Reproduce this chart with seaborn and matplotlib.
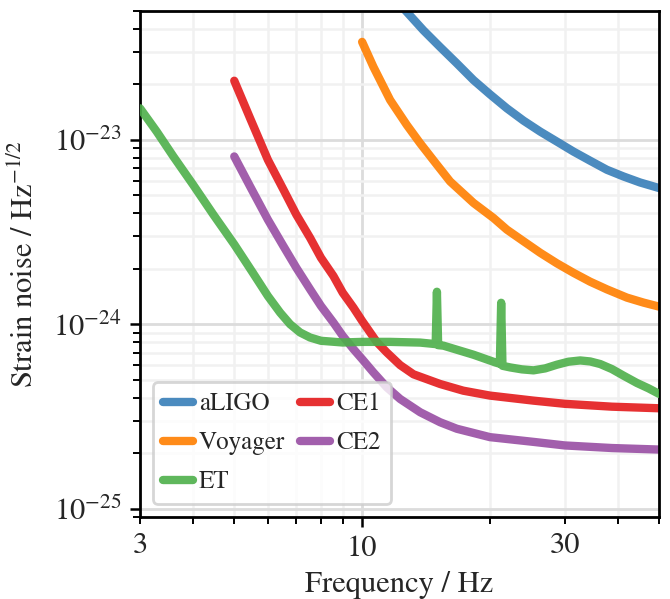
import numpy as np
import pandas as pd
import matplotlib
matplotlib.use("Agg")
import matplotlib.pyplot as plt
import matplotlib.ticker as mticker
import seaborn as sns

# ---- data ----
aligo_f = [12.15, 12.74, 13.94, 15.26, 16.71, 18.29, 20.0, 21.91, 23.98, 26.26, 28.74,
           31.45, 34.44, 37.7, 41.25, 45.15, 50.0]
aligo_s = [5.56e-23, 4.94e-23, 3.93e-23, 3.19e-23, 2.60e-23, 2.11e-23, 1.766e-23, 1.484e-23,
           1.272e-23, 1.109e-23, 9.79e-24, 8.64e-24, 7.70e-24, 6.88e-24, 6.33e-24, 5.87e-24,
           5.48e-24]

voyager_f = [10.0, 10.63, 11.64, 12.74, 13.69, 15.0, 16.11, 18.29, 20.38, 21.91, 23.98,
             26.26, 28.74, 31.45, 34.44, 37.7, 42.02, 45.97, 50.0]
voyager_s = [3.40e-23, 2.49e-23, 1.645e-23, 1.205e-23, 9.60e-24, 7.33e-24, 5.95e-24,
             4.55e-24, 3.77e-24, 3.26e-24, 2.82e-24, 2.44e-24, 2.14e-24, 1.90e-24,
             1.70e-24, 1.546e-24, 1.394e-24, 1.31e-24, 1.246e-24]

et_f = [3.0, 3.284, 3.594, 4.0, 4.465, 5.0, 5.497, 6.0, 6.411, 6.768, 7.145, 7.543, 8.0,
        9.0, 10.0, 11.64, 13.7, 14.9, 15.0, 15.1, 15.54, 18.29, 20.57, 21.1, 21.25, 21.4,
        22.31, 23.77, 25.32, 26.98, 28.74, 30.6, 32.62, 34.44, 36.36, 38.73, 41.25, 44.36,
        47.23, 50.0]
et_s = [1.483e-23, 1.109e-23, 8.13e-24, 5.71e-24, 3.93e-24, 2.71e-24, 1.942e-24, 1.422e-24,
        1.156e-24, 1.0e-24, 9.02e-25, 8.47e-25, 8.13e-25, 7.96e-25, 8.02e-25, 8.02e-25,
        7.95e-25, 7.8e-25, 1.5e-24, 7.7e-25, 7.65e-25, 6.83e-25, 6.21e-25, 6.1e-25,
        1.307e-24, 5.95e-25, 5.83e-25, 5.69e-25, 5.62e-25, 5.76e-25, 6.03e-25, 6.26e-25,
        6.36e-25, 6.28e-25, 6.08e-25, 5.71e-25, 5.26e-25, 4.80e-25, 4.49e-25, 4.19e-25]

ce1_f = [5.0, 5.448, 6.0, 6.528, 7.0, 7.543, 8.0, 8.559, 9.0, 9.54, 10.0, 10.83, 11.43,
         12.29, 13.21, 15.26, 17.3, 20.0, 25.32, 30.0, 38.73, 50.0]
ce1_s = [2.093e-23, 1.310e-23, 7.79e-24, 5.37e-24, 3.93e-24, 2.94e-24, 2.293e-24,
         1.826e-24, 1.483e-24, 1.230e-24, 1.042e-24, 8.0e-25, 7.03e-25, 6.0e-25,
         5.35e-25, 4.74e-25, 4.36e-25, 4.10e-25, 3.85e-25, 3.70e-25, 3.57e-25, 3.50e-25]

ce2_f = [5.0, 5.448, 6.0, 6.528, 7.0, 7.543, 8.0, 8.559, 9.0, 9.54, 10.0, 10.63, 11.43,
         12.29, 13.7, 15.26, 16.71, 20.0, 25.32, 30.0, 38.73, 50.0]
ce2_s = [8.13e-24, 5.59e-24, 3.69e-24, 2.65e-24, 2.024e-24, 1.546e-24, 1.256e-24,
         1.021e-24, 8.65e-25, 7.33e-25, 6.47e-25, 5.48e-25, 4.55e-25, 3.93e-25, 3.33e-25,
         2.94e-25, 2.71e-25, 2.44e-25, 2.30e-25, 2.20e-25, 2.13e-25, 2.09e-25]

names = ["aLIGO", "Voyager", "ET", "CE1", "CE2"]
freqs = [aligo_f, voyager_f, et_f, ce1_f, ce2_f]
strains = [aligo_s, voyager_s, et_s, ce1_s, ce2_s]
colors = ["#377eb8", "#ff7f00", "#4daf4a", "#e41a1c", "#984ea3"]
zorders = [2, 2, 3, 2, 2]

x_ticks = [3, 10, 30]
x_ticklabels = ["3", "10", "30"]

# ---- style ----
sns.set_theme(style="white")
plt.rcParams["font.family"] = ["STIXGeneral", "DejaVu Serif"]
plt.rcParams["mathtext.fontset"] = "stix"
plt.rcParams["axes.unicode_minus"] = True

fig = plt.figure(figsize=(3.35, 2.995), dpi=200)
ax = fig.add_axes([0.209, 0.1369, 0.7746, 0.8447])

for name, f, s, c, z in zip(names, freqs, strains, colors, zorders):
    df = pd.DataFrame({"f": f, "s": s})
    sns.lineplot(data=df, x="f", y="s", ax=ax, color=c, lw=3.0, alpha=0.9,
                 label=name, sort=False, zorder=z, estimator=None)

ax.set_xscale("log")
ax.set_yscale("log")
ax.set_xlim(3, 50)
ax.set_ylim(9e-26, 5e-23)

ax.xaxis.set_major_locator(mticker.FixedLocator([10]))
ax.xaxis.set_minor_locator(mticker.FixedLocator([3, 4, 5, 6, 7, 8, 9, 20, 30, 40, 50]))
def xfmt(v, pos):
    for t, l in zip(x_ticks, x_ticklabels):
        if abs(v - t) < 1e-6 * t:
            return l
    return ""
ax.xaxis.set_major_formatter(mticker.FuncFormatter(xfmt))
ax.xaxis.set_minor_formatter(mticker.FuncFormatter(xfmt))

ax.yaxis.set_major_locator(mticker.FixedLocator([1e-25, 1e-24, 1e-23]))
ax.yaxis.set_major_formatter(mticker.LogFormatterSciNotation())
ax.yaxis.set_minor_locator(mticker.LogLocator(base=10, subs=np.arange(2, 10), numticks=20))
ax.yaxis.set_minor_formatter(mticker.NullFormatter())

ax.grid(True, which="major", color="#dcdcdc", lw=1.0, zorder=0)
ax.grid(True, which="minor", color="#f1f1f1", lw=0.9, zorder=0)
ax.set_axisbelow(True)

for sp in ax.spines.values():
    sp.set_color("black")
    sp.set_linewidth(1.0)

ax.tick_params(axis="both", which="major", direction="out", length=3.6, width=0.9,
               color="black", labelsize=11, bottom=True, left=True, top=False, right=False,
               pad=3.0)
ax.tick_params(axis="both", which="minor", direction="out", length=2.4, width=0.7,
               color="black", labelsize=11, bottom=True, left=True, top=False, right=False,
               pad=3.0)

ax.set_xlabel("Frequency / Hz", fontsize=11, labelpad=3)
ax.set_ylabel(r"Strain noise / Hz$^{-1/2}$", fontsize=11, labelpad=5)

leg = ax.legend(loc="lower left", ncol=2, fontsize=9, handlelength=1.2,
                columnspacing=0.6, labelspacing=0.6, handletextpad=0.25,
                borderpad=0.4, frameon=True)
leg.get_frame().set_edgecolor("#cccccc")

fig.savefig("out.png", dpi=200)
